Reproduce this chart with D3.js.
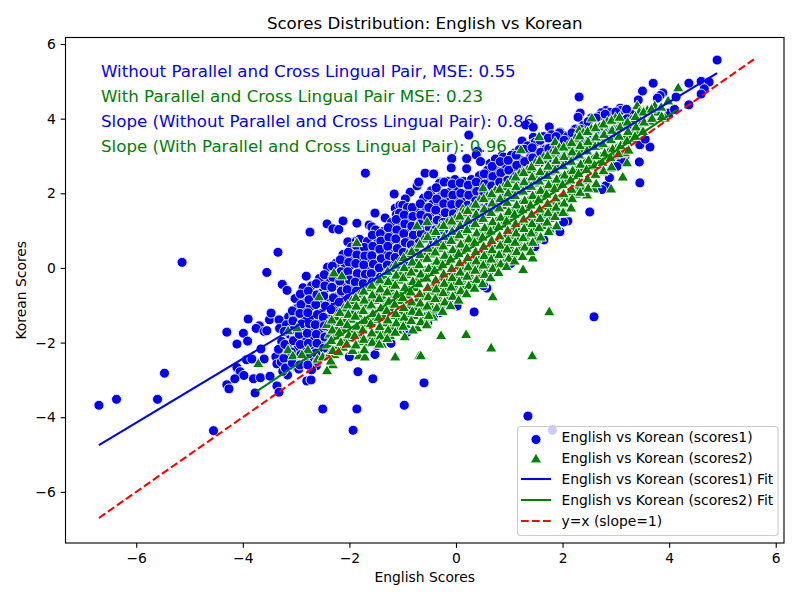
<!DOCTYPE html>
<html>
<head>
<meta charset="utf-8">
<script src="https://cdn.jsdelivr.net/npm/d3@7"></script>
<style>
  body { margin: 0; background: #fff; }
  text { font-family: "DejaVu Sans", sans-serif; }
</style>
</head>
<body>
<script>
// English / Korean score pairs
var scores1 = [
  [-6.7,-3.68],[-6.37,-3.52],[-5.6,-3.52],[-5.47,-2.82],[-5.14,0.15],[-4.55,-4.36],[-4.3,-1.72],[-4.11,-2.04],[-3.99,-1.75],[-3.91,-1.96],
  [-3.9,-1.37],[-3.69,-1.55],[-3.75,-1.62],[-3.6,-1.7],[-3.55,-1.68],[-3.5,-1.39],[-3.47,-1.21],[-3.32,-1.39],[-3.66,-2.17],[-3.93,-2.46],
  [-3.83,-2.44],[-3.6,-2.44],[-3.38,-2.38],[-3.36,-2.57],[-4.11,-2.67],[-4.05,-2.78],[-3.98,-2.88],[-4.15,-2.97],[-3.8,-2.97],[-3.67,-2.94],
  [-3.49,-2.9],[-3.16,-2.87],[-4.3,-3.13],[-4.26,-3.24],[-3.77,-3.35],[-3.36,-3.16],[-3.32,-3.33],[-2.8,-3.03],[-2.72,-3.0],[-2.5,-3.78],
  [-1.86,-3.78],[-1.93,-4.35],[-0.97,-3.68],[-1.56,-2.97],[-1.84,-2.78],[-2.0,-2.38],[-2.98,-2.68],[-2.62,-2.62],[-0.6,-3.08],[1.35,-3.97],
  [1.81,-4.35],[2.59,-1.31],[0.34,-1.18],[0.58,-0.54],[-0.32,-1.2],[-0.5,-1.2],[-0.05,-0.91],[-0.42,-1.27],
  [4.9,5.57],[4.37,4.95],[4.6,5.0],[4.75,4.98],[4.66,4.8],[4.6,4.66],[4.37,4.37],[3.7,4.95],[3.5,4.74],[3.42,4.5],
  [3.88,4.69],[3.83,4.62],[3.78,4.55],[4.13,4.58],[2.31,4.58],[2.33,4.15],[2.29,4.04],[2.81,4.22],[2.73,4.16],[2.85,4.05],
  [3.08,4.28],[3.07,4.2],[4.0,4.15],[4.1,4.25],[3.3,3.95],[1.31,3.83],[1.45,3.77],[1.75,3.78],[1.95,3.64],[2.03,3.55],
  [1.85,3.46],[1.88,3.34],[2.1,3.4],[1.24,3.4],[1.45,3.5],[1.43,3.32],[0.24,3.56],[-0.08,2.93],[0.2,2.93],[0.2,2.66],
  [-0.09,2.68],[-0.58,2.54],[-0.42,2.52],[0.4,3.13],[0.38,3.03],[1.1,3.08],[1.39,3.08],[1.5,3.0],[1.66,3.2],[1.78,3.1],
  [1.9,3.05],[0.86,3.0],[0.64,2.8],[0.8,2.66],[0.46,2.85],[0.45,2.45],[0.62,2.42],[0.83,2.25],[0.24,2.27],[-0.3,2.3],
  [3.64,3.24],[3.45,3.3],[3.55,3.45],[3.44,2.84],[3.45,2.28],[3.17,2.97],[3.0,2.87],[3.1,2.88],[2.81,2.2],[2.74,2.1],
  [2.51,1.5],[2.1,1.26],[1.95,0.97],[1.65,0.75],
  [-1.7,2.54],[-1.16,1.98],[-0.86,2.03],[-0.95,1.85],[-0.73,2.2],[-0.7,2.3],[-1.52,1.47],[-2.12,1.26],[-2.42,1.18],[-2.31,1.05],
  [-2.2,1.03],[-1.86,1.2],[-1.63,1.15],[-1.58,1.1],[-2.74,0.96],[-1.33,1.34],[-1.14,1.6],[-1.05,1.68],[-1.0,1.68],[-1.12,1.43],
  [-1.05,1.28],[-1.22,1.1],[-0.8,1.35],[-0.7,1.6],[-3.34,0.42],[-3.55,-0.12],[-2.81,-0.22],[-3.26,-0.44],[-3.17,-0.6],[-2.03,0.7],
  [-1.87,0.72],[-1.75,0.68],
  [-3.31,-1.62],[-3.27,-1.97],[-3.33,-2.18],[-3.28,-2.52],[-3.25,-2.77],[-3.14,-1.31],[-3.18,-1.52],[-3.12,-1.78],[-3.16,-2.07],[-3.11,-2.33],
  [-3.15,-2.62],[-3.02,-0.82],[-2.97,-1.07],[-3.04,-1.28],[-2.99,-1.57],[-3.03,-1.83],[-2.96,-2.12],[-3.01,-2.43],[-2.95,-2.71],[-2.87,-0.53],
  [-2.83,-0.92],[-2.88,-1.13],[-2.84,-1.42],[-2.89,-1.68],[-2.82,-1.97],[-2.86,-2.18],[-2.81,-2.52],[-2.71,-0.48],[-2.68,-0.77],[-2.73,-1.03],
  [-2.67,-1.32],[-2.72,-1.58],[-2.69,-1.82],[-2.74,-2.08],[-2.66,-2.42],[-2.71,-2.73],[-2.56,-0.28],[-2.52,-0.67],[-2.58,-0.88],[-2.53,-1.22],
  [-2.57,-1.43],[-2.51,-1.72],[-2.55,-1.98],[-2.59,-2.32],[-2.41,0.02],[-2.37,-0.32],[-2.43,-0.53],[-2.38,-0.82],[-2.42,-1.03],[-2.36,-1.37],
  [-2.44,-1.58],[-2.39,-1.97],[-2.35,-2.18],[-2.26,0.12],[-2.22,-0.22],[-2.28,-0.43],[-2.23,-0.77],[-2.27,-0.98],[-2.21,-1.27],[-2.12,0.36],
  [-2.08,0.08],[-2.13,-0.17],[-2.07,-0.38],[-2.11,-0.67],[-2.06,-0.88],[-2.14,-1.22],[-1.96,0.56],[-1.93,0.28],[-1.98,0.07],[-1.92,-0.22],
  [-1.97,-0.43],[-1.94,-0.72],[-1.99,-0.98],[-1.81,0.77],[-1.78,0.43],[-1.83,0.22],[-1.77,-0.07],[-1.82,-0.28],[-1.79,-0.57],[-1.66,0.71],
  [-1.62,0.48],[-1.68,0.27],[-1.63,-0.02],[-1.67,-0.23],[-1.61,-0.52],[-1.51,1.02],[-1.47,0.68],[-1.53,0.47],[-1.48,0.18],[-1.52,-0.03],
  [-1.46,-0.32],[-1.36,0.98],[-1.32,0.87],[-1.38,0.58],[-1.33,0.37],[-1.37,0.08],[-1.31,-0.13],[-1.21,1.22],[-1.18,0.93],[-1.23,0.72],
  [-1.17,0.43],[-1.22,0.22],[-1.19,-0.07],[-1.06,1.47],[-1.03,1.13],[-1.08,0.92],[-1.02,0.63],[-1.07,0.42],[-1.04,0.13],[-0.91,1.62],
  [-0.88,1.28],[-0.93,1.07],[-0.87,0.78],[-0.92,0.57],[-0.89,0.28],[-0.76,1.52],[-0.72,1.23],[-0.78,1.02],[-0.73,0.73],[-0.77,0.52],
  [-0.61,1.87],[-0.57,1.53],[-0.63,1.32],[-0.58,1.03],[-0.62,0.82],[-0.46,2.07],[-0.43,1.73],[-0.48,1.47],[-0.42,1.18],[-0.47,0.97],
  [-0.44,0.68],[-0.31,2.27],[-0.28,1.93],[-0.33,1.67],[-0.27,1.38],[-0.32,1.17],[-0.29,0.88],[-0.16,2.32],[-0.12,2.03],[-0.18,1.82],
  [-0.13,1.53],[-0.17,1.32],[-0.11,1.03],[-0.02,2.37],[0.02,2.08],[-0.03,1.87],[0.03,1.58],[-0.01,1.37],[0.04,1.08],[0.14,2.32],
  [0.18,1.98],[0.12,1.77],[0.17,1.48],[0.13,1.27],[0.29,2.37],[0.33,2.08],[0.27,1.87],[0.32,1.58],[0.28,1.42],[0.44,2.47],
  [0.48,2.18],[0.42,1.97],[0.47,1.68],[0.59,2.62],[0.63,2.33],[0.57,2.12],[0.62,1.83],[0.74,2.92],[0.78,2.58],[0.72,2.32],
  [0.77,2.03],[0.73,1.82],[0.89,2.97],[0.93,2.68],[0.87,2.47],[0.92,2.18],[0.88,1.97],[1.04,3.02],[1.08,2.73],[1.02,2.52],
  [1.07,2.23],[1.03,2.02],[1.19,3.17],[1.23,2.88],[1.17,2.62],[1.22,2.28],[1.34,3.27],[1.38,2.93],[1.32,2.67],[1.37,2.38],
  [1.49,3.37],[1.53,3.03],[1.47,2.82],[1.52,2.48],[1.64,3.52],[1.68,3.18],[1.62,2.92],[1.67,2.58],[1.79,3.57],[1.83,3.28],
  [1.77,3.02],[1.82,2.73],[1.94,3.62],[1.98,3.38],[1.92,3.17],[1.97,2.83],[2.09,3.52],[2.13,3.23],[2.07,3.02],[2.24,3.72],
  [2.28,3.38],[2.22,3.12],[2.39,3.82],[2.43,3.48],[2.37,3.27],[2.54,4.02],[2.58,3.63],[2.52,3.42],[2.69,4.07],[2.73,3.78],
  [2.67,3.52],[2.89,4.17],[2.93,3.83],[3.09,4.22],[3.13,3.93],[3.29,4.12],[3.33,3.78],[3.02,2.72],[2.88,2.42],[3.18,3.12],
  [-1.52,-2.32],[-1.48,-2.08],[-1.22,-2.02],[-0.92,-1.73],[-0.53,-1.47],[0.02,-1.02],[0.52,-0.48],[1.03,0.12],[1.48,0.57],[2.02,1.23],
  [-3.22,-1.7],[-3.21,-2.05],[-3.23,-2.42],[-3.2,-2.68],[-3.07,-1.15],[-3.06,-1.42],[-3.08,-1.68],[-3.05,-1.95],[-3.09,-2.25],[-3.07,-2.55],
  [-2.92,-0.7],[-2.91,-0.98],[-2.93,-1.22],[-2.9,-1.5],[-2.94,-1.78],[-2.92,-2.05],[-2.91,-2.32],[-2.93,-2.6],[-2.77,-0.62],[-2.76,-0.85],
  [-2.78,-1.2],[-2.75,-1.5],[-2.79,-1.75],[-2.77,-2.02],[-2.76,-2.3],[-2.78,-2.6],[-2.62,-0.42],[-2.61,-0.72],[-2.63,-0.98],[-2.6,-1.25],
  [-2.64,-1.52],[-2.62,-1.78],[-2.61,-2.02],[-2.63,-2.28],[-2.6,-2.5],[-2.47,-0.18],[-2.46,-0.48],[-2.48,-0.75],[-2.45,-1.02],[-2.49,-1.32],
  [-2.47,-1.55],[-2.46,-1.85],[-2.48,-2.15],[-2.32,0.05],[-2.31,-0.25],[-2.33,-0.52],[-2.3,-0.8],[-2.34,-1.12],[-2.32,-1.42],[-2.17,0.22],
  [-2.16,-0.1],[-2.18,-0.35],[-2.15,-0.62],[-2.19,-0.92],[-2.17,-1.18],[-2.02,0.42],[-2.01,0.15],[-2.03,-0.1],[-2.0,-0.32],[-2.04,-0.58],
  [-2.02,-0.82],[-2.01,-1.12],[-1.87,0.6],[-1.86,0.35],[-1.88,0.12],[-1.85,-0.15],[-1.89,-0.38],[-1.87,-0.62],[-1.72,0.55],[-1.71,0.32],
  [-1.73,0.08],[-1.7,-0.17],[-1.74,-0.42],[-1.57,0.88],[-1.56,0.58],[-1.58,0.33],[-1.55,0.1],[-1.59,-0.15],[-1.57,-0.38],[-1.42,0.92],
  [-1.41,0.72],[-1.43,0.5],[-1.4,0.25],[-1.44,0.0],[-1.42,-0.25],[-1.27,1.08],[-1.26,0.82],[-1.28,0.58],[-1.25,0.32],[-1.29,0.08],
  [-1.27,-0.12],[-1.12,1.3],[-1.11,1.02],[-1.13,0.78],[-1.1,0.52],[-1.14,0.28],[-1.12,0.03],[-0.97,1.42],[-0.96,1.18],[-0.98,0.92],
  [-0.95,0.68],[-0.99,0.42],[-0.97,0.18],[-0.82,1.62],[-0.81,1.38],[-0.83,1.12],[-0.8,0.88],[-0.84,0.62],[-0.82,0.42],[-0.67,1.72],
  [-0.66,1.42],[-0.68,1.18],[-0.65,0.92],[-0.69,0.68],[-0.52,1.95],[-0.51,1.62],[-0.53,1.35],[-0.5,1.08],[-0.54,0.85],[-0.37,2.15],
  [-0.36,1.85],[-0.38,1.55],[-0.35,1.28],[-0.39,1.02],[-0.37,0.82],[-0.22,2.3],[-0.21,2.0],[-0.23,1.72],[-0.2,1.48],[-0.24,1.22],
  [-0.22,0.98],[-0.07,2.25],[-0.06,1.95],[-0.08,1.7],[-0.05,1.45],[-0.09,1.2],[0.08,2.28],[0.09,2.0],[0.07,1.72],[0.1,1.48],
  [0.06,1.22],[0.23,2.22],[0.24,1.95],[0.22,1.68],[0.25,1.42],[0.38,2.3],[0.39,2.05],[0.37,1.8],[0.4,1.55],[0.53,2.52],
  [0.54,2.25],[0.52,2.0],[0.55,1.75],[0.68,2.72],[0.69,2.45],[0.67,2.2],[0.7,1.95],[0.83,2.85],[0.84,2.55],[0.82,2.3],
  [0.85,2.05],[0.98,2.88],[0.99,2.62],[0.97,2.35],[1.0,2.1],[1.13,3.02],[1.14,2.75],[1.12,2.45],[1.15,2.2],[1.28,3.18],
  [1.29,2.85],[1.27,2.55],[1.3,2.3],[1.43,3.22],[1.44,2.95],[1.42,2.65],[1.45,2.42],[1.58,3.42],[1.59,3.1],[1.57,2.82],
  [1.6,2.55],[1.73,3.48],[1.74,3.2],[1.72,2.9],[1.75,2.68],[1.88,3.52],[1.89,3.25],[1.87,3.02],[1.9,2.8],[2.03,3.42],
  [2.04,3.18],[2.02,2.95],[2.18,3.62],[2.19,3.3],[2.17,3.08],[2.33,3.72],[2.34,3.42],[2.32,3.18],[2.48,3.92],[2.49,3.58],
  [2.47,3.32],[2.63,4.02],[2.64,3.72],[2.62,3.45],[2.8,4.12],[2.81,3.82],[2.79,3.6],[3.0,4.18],[3.01,3.9],[3.2,4.25],
  [3.21,4.0],[3.4,4.05],[3.41,3.7]
];
var scores2 = [
  [-3.71,-2.62],[-2.98,-1.66],[-3.15,-1.74],[-3.15,-2.25],[-3.06,-2.41],[-2.78,-2.25],[-2.89,-2.38],[-2.57,-0.83],[-2.29,-0.19],[-2.14,-0.27],
  [-2.6,-2.5],[-2.5,-2.44],[-2.38,-2.42],[-2.31,-2.65],[-2.42,-2.81],[-1.82,-2.41],[-1.71,-2.44],[-1.14,-2.44],[-0.69,-2.41],[-0.73,-1.66],
  [-1.3,-1.93],[-1.39,-2.1],[-1.86,0.62],[-0.73,1.07],[-0.54,1.18],[-0.28,1.07],[0.13,1.53],[0.3,1.53],[0.51,2.09],[0.72,2.0],
  [1.01,2.14],[0.69,-0.83],[1.44,0.21],[1.26,-0.1],[1.75,-1.23],[1.43,-2.41],[0.66,-2.2],[0.19,-1.84],[-0.28,-1.87],[-0.66,-2.41],
  [-0.54,-1.55],[-0.43,-1.37],[4.17,4.77],[3.98,4.42],[3.73,4.29],[3.4,4.29],[2.55,3.96],[3.02,3.88],[2.31,3.64],[1.56,3.46],
  [1.86,3.32],[1.22,3.11],[3.92,3.96],[3.13,2.38],[3.21,2.76],[2.91,2.06],[2.59,2.06],[2.46,1.9],[2.04,1.42],[1.76,0.99],
  [-2.42,-1.57],[-2.37,-1.83],[-2.41,-2.12],[-2.36,-2.33],[-2.26,-1.37],[-2.22,-1.62],[-2.27,-1.88],[-2.23,-2.17],[-2.28,-2.38],[-2.11,-1.13],
  [-2.07,-1.42],[-2.13,-1.68],[-2.08,-1.97],[-2.12,-2.18],[-1.96,-0.93],[-1.92,-1.22],[-1.97,-1.43],[-1.93,-1.72],[-1.98,-1.93],[-1.94,-2.27],
  [-1.81,-0.77],[-1.77,-0.98],[-1.83,-1.32],[-1.78,-1.53],[-1.82,-1.82],[-1.79,-2.03],[-1.66,-0.58],[-1.62,-0.87],[-1.68,-1.08],[-1.63,-1.37],
  [-1.67,-1.58],[-1.61,-1.87],[-1.65,-2.08],[-1.51,-0.43],[-1.47,-0.72],[-1.53,-0.93],[-1.48,-1.22],[-1.52,-1.43],[-1.46,-1.72],[-1.5,-1.97],
  [-1.36,-0.27],[-1.32,-0.48],[-1.38,-0.82],[-1.33,-1.03],[-1.37,-1.32],[-1.31,-1.53],[-1.35,-1.78],[-1.21,-0.07],[-1.17,-0.33],[-1.23,-0.62],
  [-1.18,-0.83],[-1.22,-1.12],[-1.16,-1.33],[-1.2,-1.62],[-1.24,-1.87],[-1.06,0.12],[-1.02,-0.17],[-1.08,-0.38],[-1.03,-0.72],[-1.07,-0.93],
  [-1.01,-1.22],[-1.05,-1.43],[-1.09,-1.72],[-0.91,0.32],[-0.87,-0.02],[-0.93,-0.23],[-0.88,-0.52],[-0.92,-0.78],[-0.86,-1.07],[-0.9,-1.28],
  [-0.94,-1.57],[-0.76,0.47],[-0.72,0.18],[-0.78,-0.08],[-0.73,-0.37],[-0.77,-0.58],[-0.71,-0.87],[-0.75,-1.12],[-0.79,-1.33],[-0.61,0.72],
  [-0.57,0.38],[-0.63,0.17],[-0.58,-0.12],[-0.62,-0.33],[-0.56,-0.62],[-0.6,-0.83],[-0.64,-1.12],[-0.59,-1.37],[-0.46,0.87],[-0.42,0.53],
  [-0.48,0.32],[-0.43,0.03],[-0.47,-0.18],[-0.41,-0.47],[-0.45,-0.68],[-0.49,-0.97],[-0.44,-1.18],[-0.31,1.02],[-0.27,0.68],[-0.33,0.47],
  [-0.28,0.18],[-0.32,-0.03],[-0.26,-0.32],[-0.3,-0.53],[-0.34,-0.82],[-0.29,-1.03],[-0.16,1.17],[-0.12,0.83],[-0.18,0.62],[-0.13,0.33],
  [-0.17,0.12],[-0.11,-0.17],[-0.15,-0.38],[-0.19,-0.67],[-0.14,-0.88],[-0.01,1.27],[0.03,0.98],[-0.03,0.77],[0.02,0.48],[-0.02,0.27],
  [0.04,-0.02],[0.0,-0.23],[-0.04,-0.52],[0.01,-0.73],[0.14,1.42],[0.18,1.13],[0.12,0.92],[0.17,0.63],[0.13,0.42],[0.19,0.13],
  [0.15,-0.08],[0.11,-0.37],[0.16,-0.58],[0.29,1.57],[0.33,1.28],[0.27,1.07],[0.32,0.78],[0.28,0.57],[0.34,0.28],[0.3,0.07],
  [0.26,-0.22],[0.31,-0.43],[0.44,1.77],[0.48,1.43],[0.42,1.22],[0.47,0.93],[0.43,0.72],[0.49,0.43],[0.45,0.22],[0.41,-0.07],
  [0.46,-0.28],[0.59,1.87],[0.63,1.58],[0.57,1.37],[0.62,1.08],[0.58,0.87],[0.64,0.58],[0.6,0.37],[0.56,0.08],[0.61,-0.13],
  [0.74,2.02],[0.78,1.73],[0.72,1.52],[0.77,1.23],[0.73,1.02],[0.79,0.73],[0.75,0.52],[0.71,0.23],[0.76,0.02],[0.89,2.12],
  [0.93,1.83],[0.87,1.62],[0.92,1.33],[0.88,1.12],[0.94,0.83],[0.9,0.62],[0.86,0.33],[0.91,0.12],[1.04,2.32],[1.08,2.03],
  [1.02,1.82],[1.07,1.53],[1.03,1.32],[1.09,1.03],[1.05,0.82],[1.01,0.53],[1.06,0.32],[1.19,2.47],[1.23,2.18],[1.17,1.97],
  [1.22,1.68],[1.18,1.47],[1.24,1.18],[1.2,0.97],[1.16,0.68],[1.21,0.47],[1.34,2.57],[1.38,2.28],[1.32,2.07],[1.37,1.78],
  [1.33,1.57],[1.39,1.28],[1.35,1.07],[1.31,0.78],[1.36,0.57],[1.49,2.77],[1.53,2.43],[1.47,2.22],[1.52,1.93],[1.48,1.72],
  [1.54,1.43],[1.5,1.22],[1.46,0.93],[1.51,0.72],[1.64,2.92],[1.68,2.58],[1.62,2.37],[1.67,2.08],[1.63,1.87],[1.69,1.58],
  [1.65,1.37],[1.61,1.08],[1.79,3.02],[1.83,2.73],[1.77,2.52],[1.82,2.23],[1.78,2.02],[1.84,1.73],[1.8,1.52],[1.76,1.27],
  [1.94,3.17],[1.98,2.88],[1.92,2.67],[1.97,2.38],[1.93,2.17],[1.99,1.88],[1.95,1.67],[1.91,1.42],[2.09,3.22],[2.13,2.98],
  [2.07,2.77],[2.12,2.48],[2.08,2.27],[2.14,1.98],[2.1,1.77],[2.24,3.42],[2.28,3.13],[2.22,2.92],[2.27,2.63],[2.23,2.42],
  [2.29,2.13],[2.25,1.92],[2.39,3.57],[2.43,3.28],[2.37,3.07],[2.42,2.78],[2.38,2.57],[2.44,2.28],[2.4,2.07],[2.54,3.67],
  [2.58,3.38],[2.52,3.17],[2.57,2.88],[2.53,2.67],[2.59,2.42],[2.69,3.72],[2.73,3.43],[2.67,3.22],[2.72,2.93],[2.68,2.72],
  [2.74,2.52],[2.84,3.87],[2.88,3.58],[2.82,3.37],[2.87,3.08],[2.83,2.87],[2.89,2.62],[2.99,3.97],[3.03,3.68],[2.97,3.47],
  [3.02,3.18],[2.98,2.97],[3.14,3.77],[3.18,3.48],[3.12,3.32],[3.17,3.03],[3.29,3.92],[3.33,3.63],[3.27,3.42],[3.44,4.12],
  [3.48,3.83],[3.42,3.62],[3.59,4.17],[3.63,3.88],[3.79,4.12],
  [-2.33,-1.45],[-2.32,-1.72],[-2.34,-2.0],[-2.31,-2.27],[-2.35,-2.55],[-2.18,-1.25],[-2.17,-1.52],[-2.19,-1.78],[-2.16,-2.05],[-2.2,-2.3],
  [-2.03,-1.05],[-2.02,-1.3],[-2.04,-1.58],[-2.01,-1.85],[-2.05,-2.1],[-1.88,-0.85],[-1.87,-1.08],[-1.89,-1.35],[-1.86,-1.62],[-1.9,-1.87],
  [-1.88,-2.12],[-1.73,-0.68],[-1.72,-0.92],[-1.74,-1.2],[-1.71,-1.47],[-1.75,-1.72],[-1.73,-1.97],[-1.72,-2.25],[-1.58,-0.52],[-1.57,-0.78],
  [-1.59,-1.05],[-1.56,-1.28],[-1.6,-1.55],[-1.58,-1.8],[-1.57,-2.05],[-1.43,-0.38],[-1.42,-0.62],[-1.44,-0.88],[-1.41,-1.13],[-1.45,-1.38],
  [-1.43,-1.63],[-1.42,-1.88],[-1.44,-2.1],[-1.28,-0.15],[-1.27,-0.42],[-1.29,-0.7],[-1.26,-0.95],[-1.3,-1.2],[-1.28,-1.45],[-1.27,-1.72],
  [-1.29,-1.95],[-1.13,0.02],[-1.12,-0.25],[-1.14,-0.52],[-1.11,-0.77],[-1.15,-1.03],[-1.13,-1.28],[-1.12,-1.53],[-1.14,-1.78],[-0.98,0.22],
  [-0.97,-0.05],[-0.99,-0.32],[-0.96,-0.58],[-1.0,-0.85],[-0.98,-1.12],[-0.97,-1.38],[-0.99,-1.62],[-0.96,-1.9],[-0.83,0.38],[-0.82,0.1],
  [-0.84,-0.17],[-0.81,-0.42],[-0.85,-0.7],[-0.83,-0.97],[-0.82,-1.22],[-0.84,-1.47],[-0.81,-1.72],[-0.68,0.58],[-0.67,0.3],[-0.69,0.03],
  [-0.66,-0.22],[-0.7,-0.48],[-0.68,-0.75],[-0.67,-1.0],[-0.69,-1.25],[-0.66,-1.5],[-0.53,0.78],[-0.52,0.47],[-0.54,0.2],[-0.51,-0.07],
  [-0.55,-0.33],[-0.53,-0.58],[-0.52,-0.83],[-0.54,-1.08],[-0.51,-1.33],[-0.55,-1.58],[-0.38,0.92],[-0.37,0.62],[-0.39,0.37],[-0.36,0.12],
  [-0.4,-0.12],[-0.38,-0.38],[-0.37,-0.62],[-0.39,-0.88],[-0.36,-1.13],[-0.23,1.08],[-0.22,0.78],[-0.24,0.53],[-0.21,0.28],[-0.25,0.03],
  [-0.23,-0.22],[-0.22,-0.47],[-0.24,-0.72],[-0.21,-0.97],[-0.25,-1.22],[-0.08,1.2],[-0.07,0.92],[-0.09,0.68],[-0.06,0.43],[-0.1,0.18],
  [-0.08,-0.07],[-0.07,-0.32],[-0.09,-0.57],[-0.06,-0.82],[-0.1,-1.07],[0.07,1.33],[0.08,1.08],[0.06,0.83],[0.09,0.58],[0.05,0.33],
  [0.07,0.08],[0.08,-0.17],[0.06,-0.42],[0.09,-0.67],[0.05,-0.92],[0.22,1.48],[0.23,1.22],[0.21,0.97],[0.24,0.72],[0.2,0.47],
  [0.22,0.22],[0.23,-0.03],[0.21,-0.28],[0.24,-0.53],[0.2,-0.75],[0.37,1.65],[0.38,1.38],[0.36,1.13],[0.39,0.88],[0.35,0.63],
  [0.37,0.38],[0.38,0.13],[0.36,-0.12],[0.39,-0.37],[0.35,-0.6],[0.52,1.8],[0.53,1.52],[0.51,1.27],[0.54,1.02],[0.5,0.77],
  [0.52,0.52],[0.53,0.27],[0.51,0.02],[0.54,-0.23],[0.5,-0.48],[0.67,1.93],[0.68,1.68],[0.66,1.43],[0.69,1.18],[0.65,0.93],
  [0.67,0.68],[0.68,0.43],[0.66,0.18],[0.69,-0.07],[0.65,-0.32],[0.82,2.05],[0.83,1.8],[0.81,1.55],[0.84,1.3],[0.8,1.05],
  [0.82,0.8],[0.83,0.55],[0.81,0.3],[0.84,0.05],[0.8,-0.18],[0.97,2.2],[0.98,1.95],[0.96,1.7],[0.99,1.45],[0.95,1.2],
  [0.97,0.95],[0.98,0.7],[0.96,0.45],[0.99,0.2],[0.95,-0.02],[1.12,2.38],[1.13,2.12],[1.11,1.88],[1.14,1.63],[1.1,1.38],
  [1.12,1.13],[1.13,0.88],[1.11,0.63],[1.14,0.38],[1.1,0.13],[1.27,2.5],[1.28,2.25],[1.26,2.0],[1.29,1.75],[1.25,1.5],
  [1.27,1.25],[1.28,1.0],[1.26,0.75],[1.29,0.5],[1.25,0.25],[1.42,2.65],[1.43,2.38],[1.41,2.13],[1.44,1.88],[1.4,1.63],
  [1.42,1.38],[1.43,1.13],[1.41,0.88],[1.44,0.63],[1.4,0.38],[1.57,2.82],[1.58,2.52],[1.56,2.27],[1.59,2.02],[1.55,1.77],
  [1.57,1.52],[1.58,1.27],[1.56,1.02],[1.59,0.77],[1.72,2.95],[1.73,2.67],[1.71,2.42],[1.74,2.17],[1.7,1.92],[1.72,1.67],
  [1.73,1.42],[1.71,1.17],[1.74,0.92],[1.87,3.08],[1.88,2.82],[1.86,2.57],[1.89,2.32],[1.85,2.07],[1.87,1.82],[1.88,1.57],
  [1.86,1.32],[1.89,1.07],[2.02,3.18],[2.03,2.93],[2.01,2.68],[2.04,2.43],[2.0,2.18],[2.02,1.93],[2.03,1.68],[2.01,1.43],
  [2.17,3.3],[2.18,3.05],[2.16,2.8],[2.19,2.55],[2.15,2.3],[2.17,2.05],[2.18,1.8],[2.16,1.55],[2.32,3.48],[2.33,3.22],
  [2.31,2.97],[2.34,2.72],[2.3,2.47],[2.32,2.22],[2.33,1.97],[2.47,3.6],[2.48,3.33],[2.46,3.08],[2.49,2.83],[2.45,2.58],
  [2.47,2.33],[2.48,2.08],[2.62,3.7],[2.63,3.45],[2.61,3.2],[2.64,2.95],[2.6,2.7],[2.62,2.45],[2.63,2.2],[2.77,3.8],
  [2.78,3.52],[2.76,3.27],[2.79,3.02],[2.75,2.77],[2.77,2.55],[2.92,3.9],[2.93,3.63],[2.91,3.38],[2.94,3.13],[2.9,2.9],
  [2.92,2.65],[3.07,3.98],[3.08,3.72],[3.06,3.47],[3.09,3.22],[3.05,3.0],[3.22,3.85],[3.23,3.6],[3.21,3.35],[3.24,3.1],
  [3.37,4.0],[3.38,3.72],[3.36,3.47],[3.52,4.12],[3.53,3.85],[3.51,3.6],[3.67,4.2],[3.68,3.95],[3.85,4.25],[3.86,4.0]
];

var fit1X = [-6.7, 4.9];
var fit1Y = [-4.75, 5.22];
var fit2X = [-3.74, 4.17];
var fit2Y = [-3.31, 4.26];
var refX = [-6.7, 5.6];
var refY = [-6.7, 5.6];

var xTicks = [-6, -4, -2, 0, 2, 4, 6];
var yTicks = [-6, -4, -2, 0, 2, 4, 6];

var notes = [
  { text: "Without Parallel and Cross Lingual Pair, MSE: 0.55", color: "blue" },
  { text: "With Parallel and Cross Lingual Pair MSE: 0.23", color: "green" },
  { text: "Slope (Without Parallel and Cross Lingual Pair): 0.86", color: "blue" },
  { text: "Slope (With Parallel and Cross Lingual Pair): 0.96", color: "green" }
];

var legendItems = [
  { label: "English vs Korean (scores1)", kind: "circle", color: "blue" },
  { label: "English vs Korean (scores2)", kind: "triangle", color: "green" },
  { label: "English vs Korean (scores1) Fit", kind: "line", color: "blue" },
  { label: "English vs Korean (scores2) Fit", kind: "line", color: "green" },
  { label: "y=x (slope=1)", kind: "dash", color: "red" }
];

var svgWidth = 800;
var svgHeight = 600;
var chartMargin = { top: 37.5, right: 16, bottom: 57, left: 65.5 };
var chartWidth = svgWidth - chartMargin.left - chartMargin.right;
var chartHeight = svgHeight - chartMargin.top - chartMargin.bottom;

var svg = d3.select("body")
  .append("svg")
  .attr("width", svgWidth)
  .attr("height", svgHeight);

var chartGroup = svg.append("g")
  .attr("transform", `translate(${chartMargin.left}, ${chartMargin.top})`);

var xScale = d3.scaleLinear()
  .domain([-7.327, 6.155])
  .range([0, chartWidth]);

var yScale = d3.scaleLinear()
  .domain([-7.37, 6.175])
  .range([chartHeight, 0]);

var triangle = d3.symbol().type(d3.symbolTriangle).size(56)();

// scatter marks: blue first, green on top
chartGroup.selectAll(".s1")
  .data(scores1)
  .enter()
  .append("circle")
  .classed("s1", true)
  .attr("cx", d => xScale(d[0]))
  .attr("cy", d => yScale(d[1]))
  .attr("r", 5)
  .attr("fill", "blue")
  .attr("stroke", "white")
  .attr("stroke-width", 0.9);

chartGroup.selectAll(".s2")
  .data(scores2)
  .enter()
  .append("path")
  .classed("s2", true)
  .attr("d", triangle)
  .attr("transform", d => `translate(${xScale(d[0])}, ${yScale(d[1]) - 1.4})`)
  .attr("fill", "green")
  .attr("stroke", "white")
  .attr("stroke-width", 0.9);

// fit lines and the y=x reference
var line = d3.line()
  .x(d => xScale(d[0]))
  .y(d => yScale(d[1]));

function drawLine(xs, ys, color, dash) {
  chartGroup.append("path")
    .attr("d", line(xs.map((x, i) => [x, ys[i]])))
    .attr("fill", "none")
    .attr("stroke", color)
    .attr("stroke-width", 2.08)
    .attr("stroke-dasharray", dash);
}
drawLine(fit1X, fit1Y, "blue", null);
drawLine(fit2X, fit2Y, "green", null);
drawLine(refX, refY, "red", "7.7,3.3");

// axes
var xAxis = d3.axisBottom(xScale).tickValues(xTicks).tickSizeOuter(0).tickSize(4.86).tickPadding(4.86);
var yAxis = d3.axisLeft(yScale).tickValues(yTicks).tickSizeOuter(0).tickSize(4.86).tickPadding(4.86);

var xGroup = chartGroup.append("g")
  .attr("transform", `translate(0, ${chartHeight})`)
  .call(xAxis);
var yGroup = chartGroup.append("g")
  .call(yAxis);

[xGroup, yGroup].forEach(function(g) {
  g.selectAll("text").attr("font-size", 13.89).attr("fill", "black").style("font-family", '"DejaVu Sans", sans-serif');
  g.selectAll("line").attr("stroke", "black").attr("stroke-width", 1.11);
  g.select(".domain").remove();
});

chartGroup.append("rect")
  .attr("width", chartWidth)
  .attr("height", chartHeight)
  .attr("fill", "none")
  .attr("stroke", "black")
  .attr("stroke-width", 1.11);

// titles
svg.append("text")
  .attr("x", chartMargin.left + chartWidth / 2)
  .attr("y", 29)
  .attr("text-anchor", "middle")
  .attr("font-size", 16.67)
  .text("Scores Distribution: English vs Korean");

svg.append("text")
  .attr("x", chartMargin.left + chartWidth / 2)
  .attr("y", 582)
  .attr("text-anchor", "middle")
  .attr("font-size", 13.89)
  .text("English Scores");

svg.append("text")
  .attr("transform", `translate(25.5, ${chartMargin.top + chartHeight / 2}) rotate(-90)`)
  .attr("text-anchor", "middle")
  .attr("font-size", 13.89)
  .text("Korean Scores");

// text notes
svg.selectAll(".note")
  .data(notes)
  .enter()
  .append("text")
  .classed("note", true)
  .attr("x", 101)
  .attr("y", (d, i) => 77 + i * 25)
  .attr("font-size", 16.67)
  .attr("fill", d => d.color)
  .text(d => d.text);

// legend
var legend = svg.append("g").attr("transform", "translate(517.5, 426.5)");

legend.append("rect")
  .attr("width", 260.5)
  .attr("height", 109)
  .attr("rx", 3)
  .attr("fill", "white")
  .attr("fill-opacity", 0.8)
  .attr("stroke", "#cccccc")
  .attr("stroke-width", 1.11);

legendItems.forEach(function(item, i) {
  var row = 10.5 + i * 21;
  if (item.kind === "circle") {
    legend.append("circle")
      .attr("cx", 18.5).attr("cy", row + 2.5).attr("r", 5)
      .attr("fill", item.color).attr("stroke", "white").attr("stroke-width", 0.9);
  } else if (item.kind === "triangle") {
    legend.append("path")
      .attr("d", triangle)
      .attr("transform", `translate(18.5, ${row + 1.6})`)
      .attr("fill", item.color).attr("stroke", "white").attr("stroke-width", 0.9);
  } else {
    legend.append("line")
      .attr("x1", 3.5).attr("x2", 33.5)
      .attr("y1", row).attr("y2", row)
      .attr("stroke", item.color)
      .attr("stroke-width", 2.08)
      .attr("stroke-dasharray", item.kind === "dash" ? "7.7,3.3" : null);
  }
  legend.append("text")
    .attr("x", 44)
    .attr("y", row + 5)
    .attr("font-size", 13.89)
    .text(item.label);
});
</script>
</body>
</html>
